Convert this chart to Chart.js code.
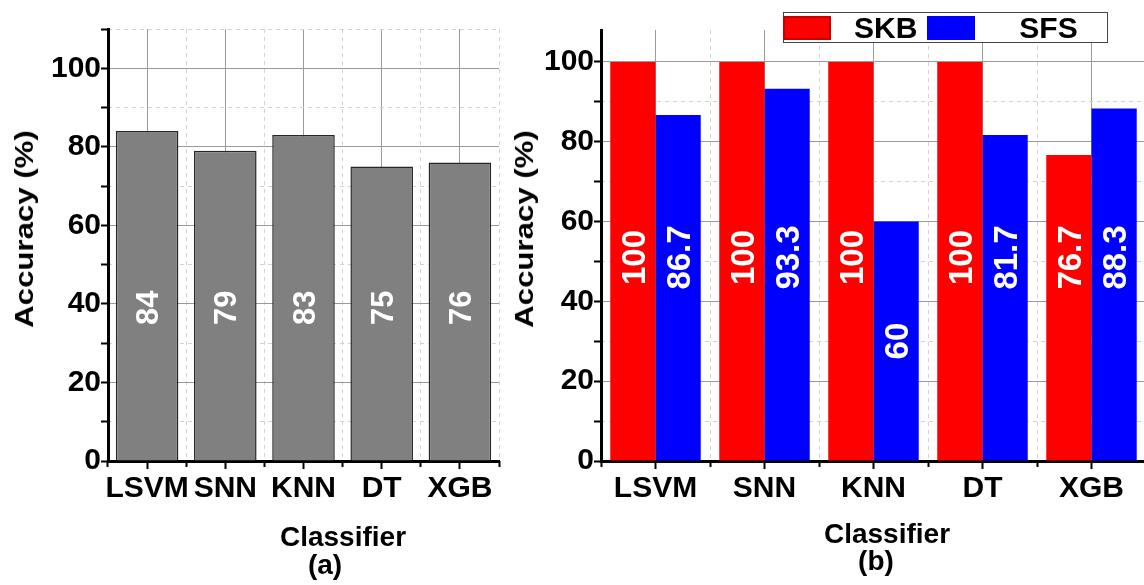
<!DOCTYPE html>
<html>
<head>
<meta charset="utf-8">
<title>Classifier accuracy</title>
<script src="https://cdn.jsdelivr.net/npm/chart.js@4.4.1/dist/chart.umd.min.js"></script>
<style>
  html, body { margin: 0; padding: 0; background: #fff; overflow: hidden; }
  body { width: 1144px; height: 585px; position: relative; font-family: "Liberation Sans", Arial, sans-serif; font-weight: bold; color: #000; }
  canvas { position: absolute; top: 0; }
  #chartA { left: 0; }
  #chartB { left: 500px; }
  .caption { position: absolute; font-size: 28px; line-height: 1; white-space: nowrap; transform: translate(-50%, -50%); }
  .ytitle { font-size: 26px; transform: translate(-50%, -50%) rotate(-90deg) scaleX(1.2); }
  #legendB {
    position: absolute; left: 783px; top: 12px; width: 323px; height: 29px;
    border: 1px solid #444; background: #fff;
    display: flex; align-items: center; font-size: 30px; line-height: 29px;
  }
  #legendB .swatch { width: 48px; height: 24px; box-sizing: border-box; flex: none; }
</style>
</head>
<body>
<canvas id="chartA" width="520" height="585"></canvas>
<canvas id="chartB" width="646" height="585"></canvas>

<div class="caption ytitle" style="left:24px; top:229px;">Accuracy (%)</div>
<div class="caption" style="left:343px; top:537px;">Classifier</div>
<div class="caption" style="left:325px; top:565px;">(a)</div>

<div class="caption ytitle" style="left:524px; top:229px;">Accuracy (%)</div>
<div class="caption" style="left:887px; top:534px;">Classifier</div>
<div class="caption" style="left:876px; top:561px;">(b)</div>

<div id="legendB"></div>

<script>
// classifiers and accuracies (%)
const classifiers = ['LSVM', 'SNN', 'KNN', 'DT', 'XGB'];
const accuracyAll = [84, 79, 83, 75, 76];
const accuracySKB = [100, 100, 100, 100, 76.7];
const accuracySFS = [86.7, 93.3, 60, 81.7, 88.3];

const FONT = '"Liberation Sans", Arial, sans-serif';
const MAJOR_GRID = '#9a9a9a';
const MINOR_GRID = '#d2d2d2';

// white rotated value inside each bar
const barLabels = {
    id: 'barLabels',
    afterDatasetsDraw(chart, args, opts) {
        const ctx = chart.ctx;
        const yScale = chart.scales.y;
        ctx.save();
        ctx.font = 'bold ' + opts.size + 'px ' + FONT;
        ctx.fillStyle = '#fff';
        ctx.textAlign = 'center';
        ctx.textBaseline = 'alphabetic';
        chart.data.datasets.forEach((ds, i) => {
            chart.getDatasetMeta(i).data.forEach((bar, j) => {
                const text = String(ds.data[j]);
                const half = ctx.measureText(text).width / 2;
                let cy = yScale.getPixelForValue(opts.center);
                // short bars: put the label in the middle of the bar
                if (cy - half - bar.y < 30) cy = (bar.y + bar.base) / 2;
                ctx.save();
                ctx.translate(bar.x + opts.size * 0.358, cy);
                ctx.rotate(-Math.PI / 2);
                ctx.fillText(text, 0, 0);
                ctx.restore();
            });
        });
        ctx.restore();
    }
};

function buildScales(yMax, yWidth, xHeight) {
    const tickFont = { family: FONT, size: 30, weight: 'bold' };
    return {
        x: {
            type: 'category',
            position: 'bottom',
            weight: 1,
            offset: true,
            grid: { offset: false, color: MAJOR_GRID, lineWidth: 1, tickColor: '#000', tickWidth: 2, tickLength: 8 },
            border: { color: '#000', width: 3 },
            ticks: { color: '#000', font: tickFont, padding: 2, maxRotation: 0, autoSkip: false },
            afterFit(scale) { scale.height = xHeight; }
        },
        // dashed lines between categories
        x2: {
            type: 'category',
            position: 'bottom',
            weight: 0,
            offset: true,
            grid: { offset: true, color: MINOR_GRID, lineWidth: 1, tickColor: '#000', tickWidth: 2, tickLength: 6 },
            border: { display: false, dash: [4, 4] },
            ticks: { display: false },
            afterFit(scale) { scale.height = 0; }
        },
        y: {
            position: 'left',
            min: 0,
            max: yMax,
            grid: {
                color: c => (c.tick && c.tick.value % 20 === 0) ? MAJOR_GRID : 'rgba(0,0,0,0)',
                lineWidth: 1,
                tickColor: '#000',
                tickWidth: 2,
                tickLength: 7
            },
            border: { color: '#000', width: 3 },
            ticks: {
                stepSize: 10,
                includeBounds: false,
                padding: 0,
                color: '#000',
                font: tickFont,
                callback: v => (v % 20 === 0 ? v : '')
            },
            afterFit(scale) { scale.width = yWidth; }
        },
        // dashed lines at the odd tens
        y2: {
            position: 'right',
            min: 0,
            max: yMax,
            grid: {
                color: c => (c.tick && c.tick.value % 10 === 0 && c.tick.value % 20 !== 0) ? MINOR_GRID : 'rgba(0,0,0,0)',
                lineWidth: 1,
                drawTicks: false
            },
            border: { display: false, dash: [4, 4] },
            ticks: { stepSize: 10, includeBounds: false, display: false },
            afterFit(scale) { scale.width = 0; }
        }
    };
}

// (a) accuracy with all features
new Chart(document.getElementById('chartA').getContext('2d'), {
    type: 'bar',
    data: {
        labels: classifiers,
        datasets: [{
            label: 'Accuracy',
            data: accuracyAll,
            backgroundColor: '#808080',
            borderColor: '#262626',
            borderWidth: 1.5,
            barPercentage: 0.8,
            categoryPercentage: 1
        }]
    },
    options: {
        responsive: false,
        animation: false,
        layout: { padding: { top: 29, right: 21, bottom: 0, left: 0 } },
        scales: buildScales(110, 108, 124),
        plugins: {
            legend: { display: false },
            tooltip: { enabled: false },
            barLabels: { center: 39, size: 31 }
        }
    },
    plugins: [barLabels]
});

// (b) SKB vs SFS feature selection
const chartB = new Chart(document.getElementById('chartB').getContext('2d'), {
    type: 'bar',
    data: {
        labels: classifiers,
        datasets: [
            {
                label: 'SKB',
                data: accuracySKB,
                backgroundColor: '#ff0000',
                borderWidth: 0,
                barPercentage: 1,
                categoryPercentage: 0.83
            },
            {
                label: 'SFS',
                data: accuracySFS,
                backgroundColor: '#0000ff',
                borderWidth: 0,
                barPercentage: 1,
                categoryPercentage: 0.83
            }
        ]
    },
    options: {
        responsive: false,
        animation: false,
        layout: { padding: { top: 30, right: 0, bottom: 0, left: 0 } },
        scales: buildScales(108, 101, 124),
        plugins: {
            legend: { display: false },
            tooltip: { enabled: false },
            barLabels: { center: 51, size: 33 }
        }
    },
    plugins: [barLabels]
});

// boxed legend above chart (b)
const legendBox = document.getElementById('legendB');
const legendGaps = [[-1, 23], [10, 44]];
chartB.data.datasets.forEach((ds, i) => {
    const swatch = document.createElement('span');
    swatch.className = 'swatch';
    swatch.style.background = ds.backgroundColor;
    swatch.style.marginLeft = legendGaps[i][0] + 'px';
    if (i === 0) swatch.style.border = '2px solid #c80000';
    const text = document.createElement('span');
    text.textContent = ds.label;
    text.style.marginLeft = legendGaps[i][1] + 'px';
    legendBox.appendChild(swatch);
    legendBox.appendChild(text);
});
</script>
</body>
</html>
